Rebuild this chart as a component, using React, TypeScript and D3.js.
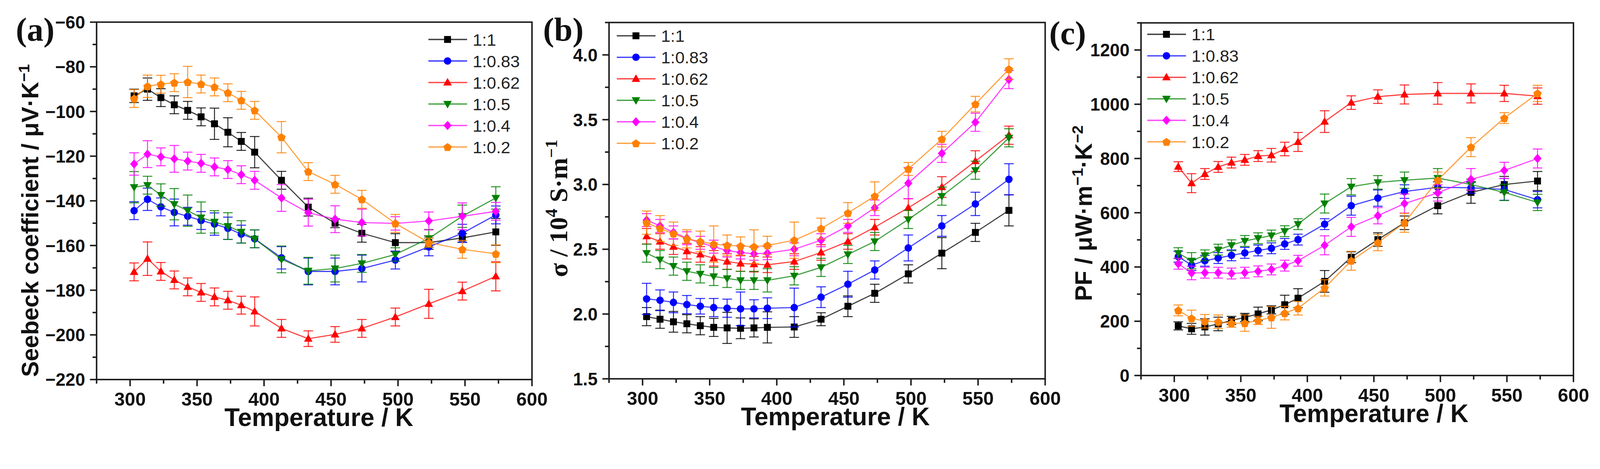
import * as d3 from 'd3';

// measurement temperatures (K)
const temperatures = [303, 313, 323, 333, 343, 353, 363, 373, 383, 393, 413, 433, 453, 473, 498, 523, 548, 573];

const sampleLabels = ['1:1', '1:0.83', '1:0.62', '1:0.5', '1:0.4', '1:0.2'];

// (a) Seebeck coefficient, µV/K
const seebeckMean = [
  [-93, -90, -93.8, -97, -99.5, -102.4, -105.5, -109.3, -113.4, -118.2, -130.8, -142.8, -150, -154.5, -158.7, -158.7, -156.6, -153.9],
  [-144.4, -139.3, -142.7, -145.2, -146.9, -148.8, -150.4, -152.3, -154.9, -157, -165.5, -171.6, -171.6, -170.3, -166.5, -160.6, -154.5, -146.3],
  [-171.8, -165.9, -171.6, -175.4, -178.5, -181, -183, -184.5, -186.7, -189.5, -197.1, -201.7, -199.8, -197.1, -192, -186.1, -180.4, -173.8],
  [-133.9, -133, -137.4, -141.5, -144.4, -147.5, -149.4, -151.3, -153.9, -157, -166.2, -171.3, -170.3, -168, -164, -156.8, -146.9, -138.7],
  [-123.5, -119.1, -120.3, -121.2, -122.2, -123.2, -124.8, -126, -128.3, -130.8, -138.7, -145.3, -148.2, -149.7, -150.1, -149, -146.9, -144.7],
  [-94.2, -88.7, -87.8, -87.1, -86.8, -87.7, -89, -91.6, -95, -99.5, -111.5, -126.9, -132.6, -139.3, -150.1, -158.7, -161.7, -163.7],
];
const seebeckErr = [
  [3, 5, 4, 4, 4, 4, 7, 6.5, 4, 7, 4, 4, 2, 4, 4, 3, 2, 6],
  [4, 5, 4, 6, 4, 4, 5, 5, 4, 4, 5, 6, 6, 6, 4, 4, 4, 4],
  [4, 7.5, 4, 4, 4, 4, 4, 4, 4, 6.5, 4, 3.5, 3.5, 4, 4, 6.5, 4, 6.5],
  [7, 4, 5, 7, 7, 7, 5, 6, 5, 4, 6, 6, 6, 4, 3, 4, 5, 5],
  [5, 6, 4, 6, 4, 4, 4, 4, 4, 4, 6, 6, 6, 6, 3, 4, 6, 4],
  [4, 5, 4, 4, 7, 4, 4, 4, 4, 4, 7, 4, 4, 4, 4, 2, 4, 4],
];

// (b) electrical conductivity, 10^4 S/m
const sigmaMean = [
  [1.98, 1.96, 1.94, 1.925, 1.91, 1.897, 1.893, 1.89, 1.893, 1.897, 1.9, 1.96, 2.06, 2.16, 2.31, 2.47, 2.63, 2.8],
  [2.117, 2.106, 2.09, 2.073, 2.06, 2.05, 2.045, 2.04, 2.04, 2.045, 2.05, 2.13, 2.23, 2.34, 2.51, 2.68, 2.85, 3.04],
  [2.6, 2.56, 2.52, 2.485, 2.46, 2.43, 2.405, 2.39, 2.385, 2.38, 2.405, 2.475, 2.56, 2.67, 2.82, 2.98, 3.18, 3.38],
  [2.47, 2.42, 2.37, 2.33, 2.31, 2.29, 2.275, 2.26, 2.26, 2.26, 2.295, 2.36, 2.46, 2.56, 2.73, 2.91, 3.11, 3.36],
  [2.725, 2.68, 2.63, 2.585, 2.55, 2.52, 2.49, 2.475, 2.465, 2.47, 2.5, 2.57, 2.68, 2.82, 3.01, 3.24, 3.48, 3.81],
  [2.705, 2.66, 2.62, 2.58, 2.56, 2.54, 2.53, 2.525, 2.52, 2.53, 2.57, 2.66, 2.78, 2.91, 3.12, 3.35, 3.62, 3.89],
];
const sigmaErr = [
  [0.07, 0.07, 0.08, 0.07, 0.07, 0.07, 0.12, 0.08, 0.07, 0.12, 0.08, 0.05, 0.08, 0.07, 0.07, 0.12, 0.07, 0.12],
  [0.12, 0.08, 0.08, 0.07, 0.06, 0.07, 0.07, 0.13, 0.07, 0.08, 0.15, 0.08, 0.1, 0.07, 0.1, 0.08, 0.09, 0.12],
  [0.06, 0.06, 0.06, 0.06, 0.06, 0.06, 0.06, 0.06, 0.06, 0.06, 0.06, 0.06, 0.06, 0.06, 0.07, 0.08, 0.08, 0.07],
  [0.07, 0.07, 0.07, 0.07, 0.07, 0.07, 0.07, 0.07, 0.07, 0.09, 0.07, 0.07, 0.07, 0.07, 0.07, 0.07, 0.07, 0.07],
  [0.05, 0.05, 0.05, 0.05, 0.05, 0.05, 0.05, 0.05, 0.05, 0.05, 0.05, 0.05, 0.05, 0.06, 0.12, 0.07, 0.07, 0.07],
  [0.09, 0.1, 0.09, 0.07, 0.08, 0.14, 0.08, 0.07, 0.13, 0.07, 0.14, 0.08, 0.08, 0.11, 0.05, 0.06, 0.06, 0.08],
];

// (c) power factor, µW m^-1 K^-2
const pfMean = [
  [183, 172, 179, 190, 203, 214, 227, 242, 261, 285, 347, 436, 501, 563, 626, 675, 704, 717],
  [438, 407, 423, 433, 443, 452, 461, 469, 485, 501, 558, 626, 654, 678, 694, 692, 686, 648],
  [770, 709, 743, 769, 785, 795, 809, 812, 835, 861, 936, 1006, 1028, 1036, 1040, 1040, 1040, 1030],
  [451, 423, 443, 464, 480, 496, 506, 516, 532, 558, 634, 696, 712, 720, 728, 704, 675, 638],
  [412, 378, 379, 379, 376, 379, 384, 391, 405, 423, 480, 548, 589, 634, 673, 723, 756, 800],
  [240, 211, 200, 198, 193, 193, 203, 214, 230, 248, 323, 423, 490, 563, 720, 842, 949, 1040],
];
const pfErr = [
  [15, 20, 30, 25, 15, 15, 25, 15, 35, 35, 40, 20, 25, 25, 30, 40, 30, 35],
  [20, 20, 20, 20, 20, 20, 20, 20, 20, 20, 20, 35, 30, 25, 20, 20, 40, 30],
  [18, 35, 20, 20, 20, 20, 20, 25, 25, 35, 40, 25, 25, 35, 40, 35, 30, 30],
  [20, 30, 20, 20, 20, 20, 20, 20, 20, 20, 35, 30, 25, 30, 35, 20, 30, 30],
  [20, 25, 20, 20, 20, 20, 20, 20, 20, 20, 35, 35, 30, 35, 30, 40, 30, 35],
  [20, 30, 25, 25, 15, 30, 15, 40, 25, 25, 30, 35, 30, 35, 30, 35, 20, 30],
];

const seriesColors = ['#000000', '#0000ff', '#ff0000', '#008000', '#ff00ff', '#ff8000'];

const SANS = '"Liberation Sans", Arial, sans-serif';
const SERIF = '"Liberation Serif", "Times New Roman", serif';
const AXIS = '#1a1a1a';

// marker shapes (size = half extent squared)
const polygon = (pts: [number, number][]) => ({
  draw(ctx: any, size: number) {
    const r = Math.sqrt(size);
    pts.forEach(([px, py], i) => (i ? ctx.lineTo(px * r, py * r) : ctx.moveTo(px * r, py * r)));
    ctx.closePath();
  },
});
const pentagonPts: [number, number][] = d3.range(5).map((i) => {
  const a = -Math.PI / 2 + (i * 2 * Math.PI) / 5;
  return [Math.cos(a) * 1.08, Math.sin(a) * 1.08 + 0.1];
});
const markerTypes = [
  polygon([[-0.85, -0.85], [0.85, -0.85], [0.85, 0.85], [-0.85, 0.85]]),
  { draw(ctx: any, size: number) { const r = Math.sqrt(size) * 0.92; ctx.moveTo(r, 0); ctx.arc(0, 0, r, 0, 2 * Math.PI); } },
  polygon([[0, -1.1], [1.05, 0.75], [-1.05, 0.75]]),
  polygon([[-1.05, -0.75], [1.05, -0.75], [0, 1.1]]),
  polygon([[0, -1.15], [1.0, 0], [0, 1.15], [-1.0, 0]]),
  polygon(pentagonPts),
];
const markerPath = (i: number, r = 11) => d3.symbol().type(markerTypes[i] as any).size(r * r)() as string;

interface PanelSpec {
  left: number; right: number; top: number; bottom: number;
  yDomain: [number, number];
  yMajor: number[]; yMinor: number[];
  yFormat: (v: number) => string;
  means: number[][]; errs: number[][];
  label: string; labelX: number; labelY: number;
  legendX: number; legendY: number;
  xTitleX: number;
  yTitle: JSX.Element;
}

const xMajor = d3.range(300, 601, 50);
const xMinor = d3.range(275, 601, 25).filter((v) => v % 50 !== 0);

function Panel({ p }: { p: PanelSpec }) {
  const x = d3.scaleLinear().domain([275, 600]).range([p.left, p.right]);
  const y = d3.scaleLinear().domain(p.yDomain).range([p.bottom, p.top]);
  const line = d3.line<number>().x((_, i) => x(temperatures[i])).y((v) => y(v));
  const cap = 13;
  return (
    <g>
      {/* series */}
      {p.means.map((vals, s) => (
        <g key={s}>
          <path d={line(vals) as string} fill="none" stroke={seriesColors[s]} strokeWidth={3} strokeOpacity={0.75} />
          {vals.map((v, i) => {
            const cx = x(temperatures[i]);
            const y0 = y(v - p.errs[s][i]);
            const y1 = y(v + p.errs[s][i]);
            return (
              <g key={i} stroke={seriesColors[s]} strokeWidth={2.6} strokeOpacity={0.85}>
                <line x1={cx} x2={cx} y1={y0} y2={y1} />
                <line x1={cx - cap} x2={cx + cap} y1={y0} y2={y0} />
                <line x1={cx - cap} x2={cx + cap} y1={y1} y2={y1} />
              </g>
            );
          })}
          {vals.map((v, i) => (
            <path key={'m' + i} d={markerPath(s)} transform={`translate(${x(temperatures[i])},${y(v)})`} fill={seriesColors[s]} />
          ))}
        </g>
      ))}

      {/* frame */}
      <rect x={p.left} y={p.top} width={p.right - p.left} height={p.bottom - p.top} fill="none" stroke={AXIS} strokeWidth={4} />

      {/* x ticks */}
      {xMajor.map((t) => (
        <g key={'xt' + t}>
          <line x1={x(t)} x2={x(t)} y1={p.bottom} y2={p.bottom + 18} stroke={AXIS} strokeWidth={4} />
          <text x={x(t)} y={p.bottom + 71} textAnchor="middle" fontFamily={SANS} fontWeight="bold" fontSize={51} fill="#111">{t}</text>
        </g>
      ))}
      {xMinor.map((t) => (
        <line key={'xm' + t} x1={x(t)} x2={x(t)} y1={p.bottom} y2={p.bottom + 11} stroke={AXIS} strokeWidth={4} />
      ))}

      {/* y ticks */}
      {p.yMajor.map((t) => (
        <g key={'yt' + t}>
          <line x1={p.left - 18} x2={p.left} y1={y(t)} y2={y(t)} stroke={AXIS} strokeWidth={4} />
          <text x={p.left - 31} y={y(t)} dy="0.36em" textAnchor="end" fontFamily={SANS} fontWeight="bold" fontSize={48} fill="#111">{p.yFormat(t)}</text>
        </g>
      ))}
      {p.yMinor.map((t) => (
        <line key={'ym' + t} x1={p.left - 11} x2={p.left} y1={y(t)} y2={y(t)} stroke={AXIS} strokeWidth={4} />
      ))}

      {/* titles */}
      <text x={p.xTitleX} y={p.bottom + 126} textAnchor="middle" fontFamily={SANS} fontWeight="bold" fontSize={68} fill="#111">Temperature / K</text>
      {p.yTitle}
      <text x={p.labelX} y={p.labelY} fontFamily={SERIF} fontWeight="bold" fontSize={90} fill="#111">{p.label}</text>

      {/* legend */}
      {sampleLabels.map((lab, s) => {
        const ly = p.legendY + s * 58.3;
        return (
          <g key={'lg' + s}>
            <line x1={p.legendX} x2={p.legendX + 105} y1={ly} y2={ly} stroke={seriesColors[s]} strokeWidth={3.5} strokeOpacity={0.75} />
            <path d={markerPath(s)} transform={`translate(${p.legendX + 52},${ly})`} fill={seriesColors[s]} />
            <text x={p.legendX + 120} y={ly} dy="0.36em" fontFamily={SANS} fontSize={46} fill="#222">{lab}</text>
          </g>
        );
      })}
    </g>
  );
}

const sup = (txt: string) => (
  <tspan dy={-25} fontSize={42}>{txt}</tspan>
);

const panels: PanelSpec[] = [
  {
    left: 262, right: 1443, top: 60, bottom: 1029,
    yDomain: [-220, -60],
    yMajor: d3.range(-220, -59, 20), yMinor: d3.range(-210, -60, 20),
    yFormat: (v) => `\u2212${Math.abs(v)}`,
    means: seebeckMean, errs: seebeckErr,
    label: '(a)', labelX: 43, labelY: 110,
    legendX: 1162, legendY: 107,
    xTitleX: 865,
    yTitle: (
      <text transform="translate(104,598) rotate(-90)" textAnchor="middle" fontFamily={SANS} fontWeight="bold" fontSize={64} fill="#111">
        Seebeck coefficient / μV·K{sup('\u22121')}
      </text>
    ),
  },
  {
    left: 1652, right: 2835, top: 61, bottom: 1027,
    yDomain: [1.5, 4.25],
    yMajor: d3.range(1.5, 4.01, 0.5), yMinor: d3.range(1.75, 4.26, 0.5),
    yFormat: d3.format('.1f'),
    means: sigmaMean, errs: sigmaErr,
    label: '(b)', labelX: 1473, labelY: 110,
    legendX: 1673, legendY: 97,
    xTitleX: 2266,
    yTitle: (
      <text transform="translate(1538,565) rotate(-90)" textAnchor="middle" fontFamily={SERIF} fontWeight="bold" fontSize={70} fill="#111">
        σ / 10<tspan dy={-27} fontSize={46}>4</tspan><tspan dy={27}> S·m</tspan><tspan dy={-27} fontSize={46}>{'\u22121'}</tspan>
      </text>
    ),
  },
  {
    left: 3095, right: 4268, top: 62, bottom: 1018,
    yDomain: [0, 1300],
    yMajor: d3.range(0, 1201, 200), yMinor: d3.range(100, 1301, 200),
    yFormat: d3.format('d'),
    means: pfMean, errs: pfErr,
    label: '(c)', labelX: 2846, labelY: 120,
    legendX: 3112, legendY: 93,
    xTitleX: 3727,
    yTitle: (
      <text transform="translate(2962,578) rotate(-90)" textAnchor="middle" fontFamily={SANS} fontWeight="bold" fontSize={64} fill="#111">
        PF / μW·m<tspan dy={-25} fontSize={42}>{'\u22121'}</tspan><tspan dy={25}>·K</tspan>{sup('\u22122')}
      </text>
    ),
  },
];

export default function App() {
  return (
    <svg
      viewBox="0 0 4340 1200"
      style={{ position: 'absolute', left: 0, top: 0, width: '100%', height: 'auto', display: 'block', background: '#fff' }}
    >
      <rect width={4340} height={1200} fill="#fff" />
      {panels.map((p) => (
        <Panel key={p.label} p={p} />
      ))}
    </svg>
  );
}
